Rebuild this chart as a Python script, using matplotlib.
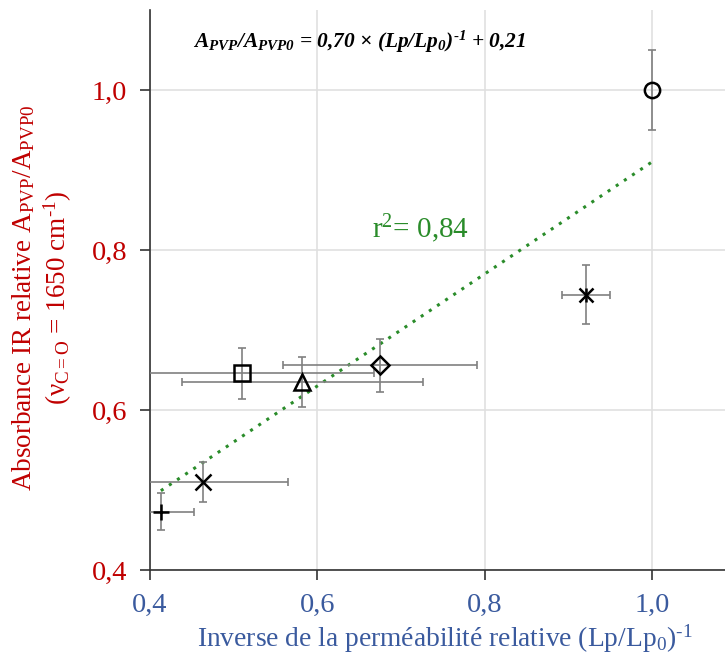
import matplotlib
matplotlib.use("Agg")
import matplotlib.pyplot as plt
import numpy as np

# data
x_vals = [0.413, 0.463, 0.510, 0.582, 0.675, 1.000, 0.921]
y_vals = [0.473, 0.510, 0.646, 0.635, 0.656, 1.000, 0.744]
x_err = [0.040, 0.102, 0.158, 0.144, 0.116, 0.0, 0.029]
y_err = [0.023, 0.025, 0.032, 0.031, 0.033, 0.050, 0.037]
markers = ['+', 'x', 's', '^', 'D', 'o', 'star']
slope, intercept = 0.70, 0.21
fit_x = [0.413, 1.0]
x_ticks = [0.4, 0.6, 0.8, 1.0]
y_ticks = [0.4, 0.6, 0.8, 1.0]

plt.rcParams['font.family'] = ['Liberation Serif', 'DejaVu Serif']
plt.rcParams['mathtext.fontset'] = 'custom'
plt.rcParams['mathtext.rm'] = 'Liberation Serif'
plt.rcParams['mathtext.it'] = 'Liberation Serif:italic'
plt.rcParams['mathtext.bf'] = 'Liberation Serif:bold'
plt.rcParams['mathtext.default'] = 'regular'

fig = plt.figure(figsize=(7.25, 6.55), dpi=100)
ax = fig.add_axes([150/725, 1-570/655, 575/725, 560/655])
ax.set_xlim(0.4, 0.4 + 0.2*575/167.3)
ax.set_ylim(0.4, 1.1)

ax.grid(True, color='#e0e0e0', linewidth=1.2)
ax.set_axisbelow(True)
for s in ['top', 'right']:
    ax.spines[s].set_visible(False)
for s in ['left', 'bottom']:
    ax.spines[s].set_color('#333333')
    ax.spines[s].set_linewidth(1.2)

fx = np.array(fit_x)
ax.plot(fx, slope*fx + intercept, linestyle=(0, (1, 2.2)), color='#2a8c2a', linewidth=2.2, zorder=2)

for xv, yv, xe, ye, m in zip(x_vals, y_vals, x_err, y_err, markers):
    ax.errorbar(xv, yv, xerr=xe if xe > 0 else None, yerr=ye, fmt='none',
                ecolor='#808080', elinewidth=1.2, capsize=3, capthick=1.2, zorder=3, clip_on=True)
    if m == 'star':
        ax.plot(xv, yv, marker='x', color='black', markersize=10, mew=1.8, linestyle='none', zorder=4)
        ax.plot(xv, yv, marker='|', color='black', markersize=10, mew=1.8, linestyle='none', zorder=4)
    elif m in ['+', 'x']:
        ax.plot(xv, yv, marker=m, color='black', markersize=11, mew=1.8, linestyle='none', zorder=4)
    else:
        ms = {'s': 11, '^': 12, 'D': 9, 'o': 11}[m]
        ax.plot(xv, yv, marker=m, markerfacecolor='none', markeredgecolor='black',
                markersize=ms, mew=1.8, linestyle='none', zorder=4)

ax.set_xticks(x_ticks)
ax.set_yticks(y_ticks)
ax.set_xticklabels([f"{t:.1f}".replace('.', ',') for t in x_ticks], color='#3a5a9e', fontsize=20.5)
ax.set_yticklabels([f"{t:.1f}".replace('.', ',') for t in y_ticks], color='#c00000', fontsize=20.5)
ax.tick_params(direction='out', length=7.5, width=1.2, color='#333333')
ax.tick_params(axis='x', pad=9)
ax.tick_params(axis='y', pad=9)

ax.set_xlabel(r'Inverse de la perméabilité relative (Lp/Lp$_0$)$^{\text{-}1}$', color='#3a5a9e', fontsize=19.8, labelpad=3)
ax.xaxis.label.set_x(0.513)
fig.text(42.5/725, 1-298/655,
         'Absorbance IR relative A$_{PVP}$/A$_{PVP0}$\n(ν$_{C=O}$ = 1650 cm$^{\\text{-}1}$)', color='#c00000',
         fontsize=19.5, linespacing=1.2, rotation=90, ha='center', va='center', multialignment='center')

ax.text(0.665, 0.816, r'r$^2$= 0,84', color='#2a8c2a', fontsize=21)
ax.text(0.451, 1.06, r'A$_{PVP}$/A$_{PVP0}$ = 0,70 × (Lp/Lp$_0$)$^{\text{-}1}$ + 0,21',
        fontsize=15.4, fontweight='bold', style='italic', va='center')

fig.savefig('out.png', dpi=100)
